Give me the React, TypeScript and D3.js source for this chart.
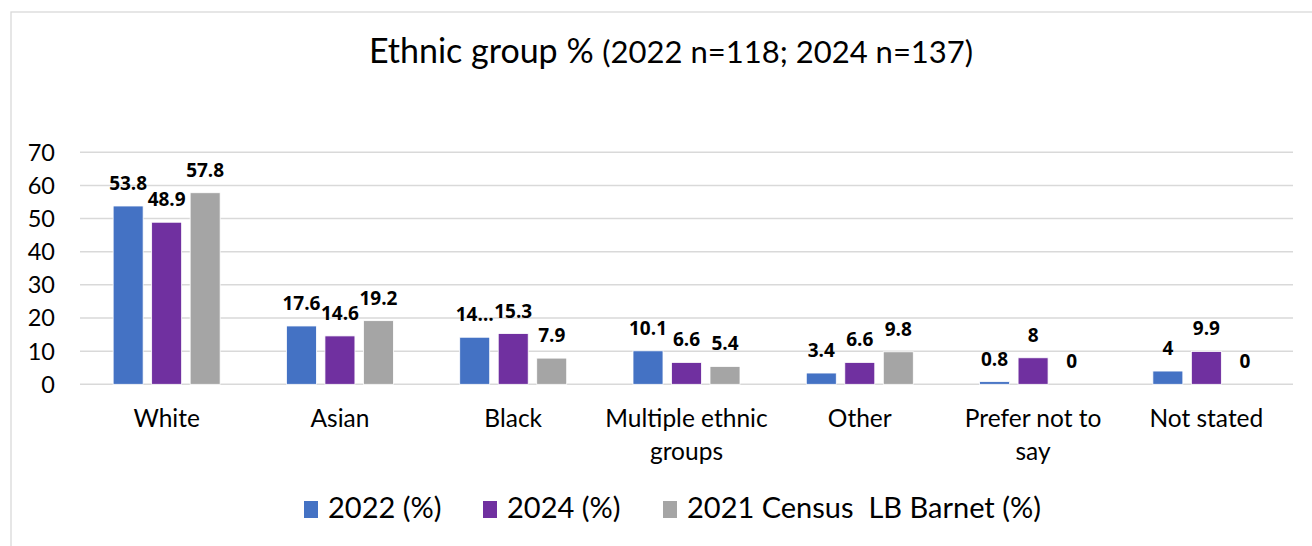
import React from "react";
import * as d3 from "d3";

const categories = ["White", "Asian", "Black", "Multiple ethnic groups", "Other", "Prefer not to say", "Not stated"];
const categoryLines = [["White"], ["Asian"], ["Black"], ["Multiple ethnic", "groups"], ["Other"], ["Prefer not to", "say"], ["Not stated"]];
const series2022 = [53.8, 17.6, 14.2, 10.1, 3.4, 0.8, 4];
const series2024 = [48.9, 14.6, 15.3, 6.6, 6.6, 8, 9.9];
const seriesCensus = [57.8, 19.2, 7.9, 5.4, 9.8, 0, 0];
const seriesNames = ["2022 (%)", "2024 (%)", "2021 Census  LB Barnet (%)"];
const seriesColors = ["#4472C4", "#7030A0", "#A5A5A5"];
const yTicks = [0, 10, 20, 30, 40, 50, 60, 70];
// label truncated in the original (series index, category index)
const truncatedLabels: [number, number, string][] = [[0, 2, "14…"]];

const W = 1312;
const H = 546;
const plot = { left: 80, right: 1293, top: 152.3, bottom: 384.3 };

export default function App() {
  const allSeries = [series2022, series2024, seriesCensus];
  const x0 = d3.scaleBand<string>().domain(categories).range([plot.left, plot.right]).paddingInner(0).paddingOuter(0);
  const y = d3.scaleLinear().domain([0, 70]).range([plot.bottom, plot.top]);
  const groupW = 107;
  const x1 = d3.scaleBand<number>().domain([0, 1, 2]).range([0, groupW]).paddingInner(0.221);
  const font = "Lato, 'Noto Sans', sans-serif";
  const labelFont = "'Open Sans', 'Liberation Sans', sans-serif";

  const labelText = (s: number, c: number, v: number) => {
    const t = truncatedLabels.find((d) => d[0] === s && d[1] === c);
    return t ? t[2] : d3.format("~g")(v);
  };

  const legendX = [304, 483, 663];

  return (
    <svg width={W} height={H} style={{ position: "absolute", left: 0, top: 0, background: "#fff" }}>
      <rect x={11} y={12} width={W} height={H} fill="#fff" stroke="#D9D9D9" strokeWidth={1.3} />
      <text x={671} y={63} textAnchor="middle" fontFamily={font} fontSize={34} fill="#000">
        <tspan>Ethnic group % </tspan>
        <tspan fontSize={31}>(2022 n=118; 2024 n=137)</tspan>
      </text>
      {yTicks.map((t) => (
        <g key={t}>
          <line x1={plot.left} x2={plot.right} y1={y(t)} y2={y(t)} stroke="#D9D9D9" strokeWidth={1.5} />
          <text x={55} y={y(t)} dy="0.36em" textAnchor="end" fontFamily={font} fontSize={23.5} fill="#000">
            {t}
          </text>
        </g>
      ))}
      {categories.map((c, ci) => {
        const gx = (x0(c) as number) + x0.bandwidth() / 2 - groupW / 2;
        return (
          <g key={c}>
            {allSeries.map((s, si) => {
              const v = s[ci];
              const bx = gx + (x1(si) as number);
              const bw = x1.bandwidth();
              return (
                <g key={si}>
                  {v > 0 && (
                    <rect x={bx} y={y(v)} width={bw} height={y(0) - y(v)} fill={seriesColors[si]} stroke="#fff" strokeWidth={0.8} />
                  )}
                  <text x={bx + bw / 2} y={y(v) - 16} textAnchor="middle" fontFamily={labelFont} fontWeight="bold" fontSize={19} fill="#000">
                    {labelText(si, ci, v)}
                  </text>
                </g>
              );
            })}
            {categoryLines[ci].map((line, li) => (
              <text key={li} x={(x0(c) as number) + x0.bandwidth() / 2} y={427 + li * 33} textAnchor="middle" fontFamily={font} fontSize={24.5} fill="#000">
                {line}
              </text>
            ))}
          </g>
        );
      })}
      {seriesNames.map((n, i) => (
        <g key={n}>
          <rect x={legendX[i]} y={501} width={14} height={17} fill={seriesColors[i]} />
          <text x={legendX[i] + 24} y={518} fontFamily={font} fontSize={29} fill="#000" style={{ whiteSpace: "pre" }}>
            {n}
          </text>
        </g>
      ))}
    </svg>
  );
}
